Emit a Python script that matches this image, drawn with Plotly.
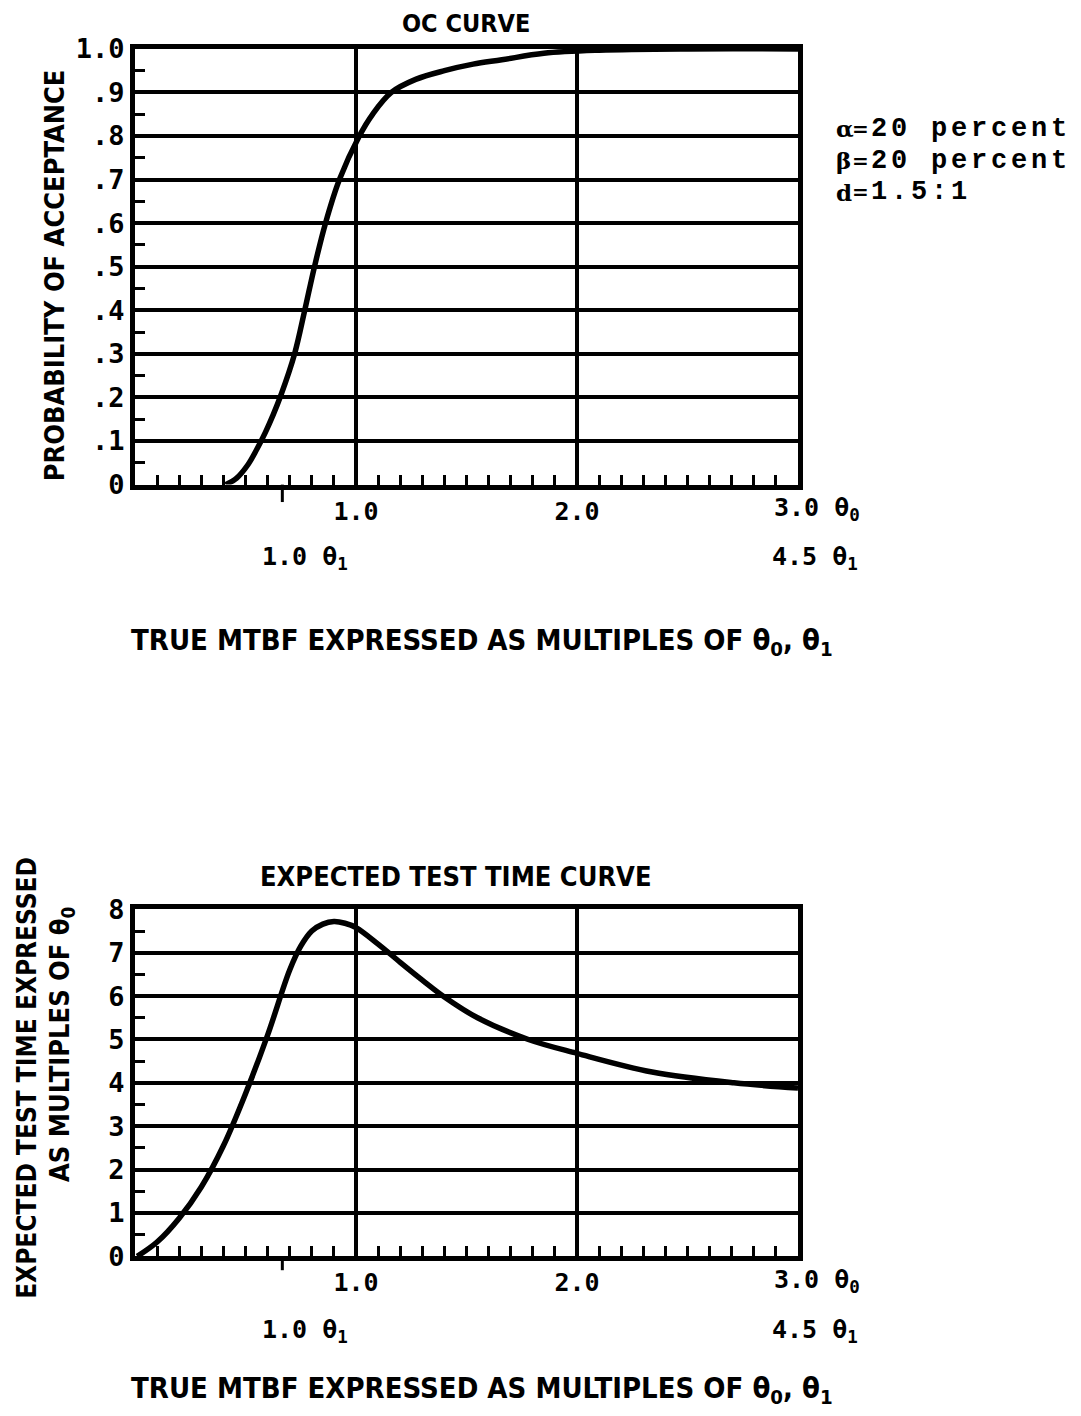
import plotly.graph_objects as go

W, H = 1081, 1416

# ---------------- data ----------------
# OC curve: true MTBF (multiples of theta0) vs probability of acceptance
oc_x = [0.41, 0.46, 0.51, 0.55, 0.59, 0.625, 0.66, 0.722, 0.768, 0.812, 0.862, 0.925, 1.015,
        1.075, 1.16, 1.27, 1.40, 1.53, 1.66, 1.85, 2.10, 2.50, 3.00]
oc_y = [0.00, 0.015, 0.045, 0.08, 0.12, 0.16, 0.205, 0.30, 0.40, 0.50, 0.60, 0.70, 0.80,
        0.85, 0.90, 0.93, 0.95, 0.965, 0.975, 0.99, 0.997, 1.00, 1.00]

# Expected test time curve (multiples of theta0)
ett_x = [0.01, 0.10, 0.20, 0.30, 0.40, 0.50, 0.60, 0.70, 0.75, 0.80, 0.85, 0.90,
         0.95, 1.00, 1.10, 1.20, 1.30, 1.40, 1.55, 1.78, 2.00, 2.34, 2.71, 3.00]
ett_y = [0.00, 0.33, 0.88, 1.60, 2.55, 3.75, 5.10, 6.60, 7.15, 7.50, 7.66, 7.72,
         7.68, 7.58, 7.20, 6.78, 6.37, 5.98, 5.50, 5.00, 4.68, 4.25, 4.00, 3.88]

d_ratio = 1.5
x_major_vals = [1, 2]
x_major_text = ["1.0", "2.0"]
oc_tick_vals = [0, 0.1, 0.2, 0.3, 0.4, 0.5, 0.6, 0.7, 0.8, 0.9, 1.0]
oc_tick_text = ["0", ".1", ".2", ".3", ".4", ".5", ".6", ".7", ".8", ".9", "1.0"]
ett_tick_vals = [0, 1, 2, 3, 4, 5, 6, 7, 8]
ett_tick_text = ["0", "1", "2", "3", "4", "5", "6", "7", "8"]
legend_sym = ["α", "β", "d"]
legend_val = ["20 percent", "20 percent", "1.5:1"]

# ---------------- helpers ----------------
def px(xp):
    return xp / W

def py(yp):
    # pixel row (from top) -> paper fraction, compensating the capture's vertical mapping
    yin = (yp - 13) / 0.981
    return 1 - yin / H

NUM_FONT = dict(family="DejaVu Sans Mono", size=25, color="black", weight="bold")
YNUM_FONT = dict(family="DejaVu Sans Mono", size=27, color="black", weight="bold")
LBL = "Liberation Sans Narrow, DejaVu Sans Condensed, DejaVu Sans, sans-serif"

def lbl(size):
    return dict(family=LBL, size=size, color="black", weight="bold")

MONO_SERIF = dict(family="Liberation Mono, Courier New, monospace", size=27, color="black", weight="bold")
SYM_FONT = dict(family="DejaVu Serif, serif", size=23, color="black", weight="bold")
EQ_FONT = dict(family="DejaVu Serif, serif", size=20, color="black", weight="bold")

xdom = [px(135), px(798)]

fig = go.Figure()
fig.add_trace(go.Scatter(x=oc_x, y=oc_y, mode="lines", line=dict(color="black", width=5.5, shape="spline"),
                         xaxis="x", yaxis="y", showlegend=False))
fig.add_trace(go.Scatter(x=ett_x, y=ett_y, mode="lines", line=dict(color="black", width=5.5, shape="spline"),
                         xaxis="x2", yaxis="y2", showlegend=False))

x_minor = [round(i * 0.1, 1) for i in range(1, 30) if i % 10 != 0]

def xaxis_cfg(anchor):
    return dict(domain=xdom, range=[0, 3], anchor=anchor,
                showline=True, mirror=True, linecolor="black", linewidth=5,
                tickvals=x_major_vals, ticktext=x_major_text, ticks="",
                showgrid=True, gridcolor="black", gridwidth=3.5,
                zeroline=False, tickfont=NUM_FONT, ticklabelstandoff=0,
                minor=dict(tickvals=x_minor, ticks="inside", ticklen=10, tickwidth=3,
                           tickcolor="black", showgrid=False))

def yaxis_cfg(anchor, dom, rng, vals, text, minor_vals):
    return dict(domain=dom, range=rng, anchor=anchor,
                showline=True, mirror=True, linecolor="black", linewidth=5,
                tickvals=vals, ticktext=text, ticks="",
                showgrid=True, gridcolor="black", gridwidth=3.5,
                zeroline=False, tickfont=YNUM_FONT, ticklabelstandoff=0,
                minor=dict(tickvals=minor_vals, ticks="inside", ticklen=10, tickwidth=3,
                           tickcolor="black", showgrid=False))

oc_minor = [round(0.05 + 0.1 * i, 2) for i in range(10)]
ett_minor = [0.5 + i for i in range(8)]

fig.update_layout(
    width=W, height=H,
    margin=dict(l=0, r=0, t=0, b=0),
    paper_bgcolor="white", plot_bgcolor="white",
    xaxis=xaxis_cfg("y"),
    yaxis=yaxis_cfg("x", [py(483), py(46)], [0, 1.0], oc_tick_vals, oc_tick_text, oc_minor),
    xaxis2=xaxis_cfg("y2"),
    yaxis2=yaxis_cfg("x2", [py(1257), py(909)], [0, 8], ett_tick_vals, ett_tick_text, ett_minor),
)

# long outside tick at 1.0 theta1 (= 1/d theta0)
theta1_pos = 1.0 / d_ratio
for xr, yr in [("x", "y domain"), ("x2", "y2 domain")]:
    fig.add_shape(type="line", xref=xr, yref=yr, x0=theta1_pos, x1=theta1_pos, y0=0, y1=-0.04,
                  line=dict(color="black", width=3))

ann = []
# titles
ann.append(dict(text="OC CURVE", x=px(466), y=py(21), font=lbl(25)))
ann.append(dict(text="EXPECTED TEST TIME CURVE", x=px(456), y=py(876), font=lbl(27)))
# y titles
ann.append(dict(text="PROBABILITY OF ACCEPTANCE", x=px(54), y=py(273), textangle=-90, font=lbl(27)))
ann.append(dict(text="EXPECTED TEST TIME EXPRESSED", x=px(27), y=py(1078), textangle=-90, font=lbl(26)))
ann.append(dict(text="AS MULTIPLES OF θ<sub>0</sub>", x=px(62), y=py(1045), textangle=-90, font=lbl(27)))
# x titles
ann.append(dict(text="TRUE MTBF EXPRESSED AS MULTIPLES OF θ<sub>0</sub>, θ<sub>1</sub>",
                x=px(482), y=py(641), font=lbl(29)))
ann.append(dict(text="TRUE MTBF EXPRESSED AS MULTIPLES OF θ<sub>0</sub>, θ<sub>1</sub>",
                x=px(482), y=py(1391), font=lbl(29)))

# secondary scale labels
for xr, y0, y1 in [("x", 503, 553), ("x2", 1278, 1328)]:
    ann.append(dict(text="3.0 θ<sub>0</sub>", xref=xr, x=3.0, xanchor="left", xshift=-26,
                    y=py(y0 + 4), font=NUM_FONT))
    ann.append(dict(text="%.1f θ<sub>1</sub>" % 1.0, xref=xr, x=theta1_pos, xanchor="left", xshift=-22,
                    y=py(y1 + 4), font=NUM_FONT))
    ann.append(dict(text="%.1f θ<sub>1</sub>" % (3.0 * d_ratio), xref=xr, x=3.0, xanchor="left", xshift=-28,
                    y=py(y1 + 4), font=NUM_FONT))

# parameter legend
for i, (s, v) in enumerate(zip(legend_sym, legend_val)):
    yy = 126 + i * 32
    ann.append(dict(text=s, x=px(834), y=py(yy), xanchor="left", font=SYM_FONT))
    ann.append(dict(text="=", x=px(860), y=py(yy), xanchor="center", font=EQ_FONT))
    ann.append(dict(text='<span style="letter-spacing:3.8px">%s</span>' % v,
                    x=px(869), y=py(yy), xanchor="left", font=MONO_SERIF))

for a in ann:
    a.setdefault("xref", "paper")
    a.setdefault("yref", "paper")
    a.setdefault("showarrow", False)
    a.setdefault("xanchor", "center")
    a.setdefault("yanchor", "middle")
    fig.add_annotation(**a)

post = ("document.body.style.margin='0';document.body.style.overflow='hidden';"
        "var gd=document.getElementsByClassName('plotly-graph-div')[0];"
        "gd.style.position='fixed';gd.style.top='0px';gd.style.left='0px';")
fig.write_html("out.html", config={"displayModeBar": False}, post_script=post)
